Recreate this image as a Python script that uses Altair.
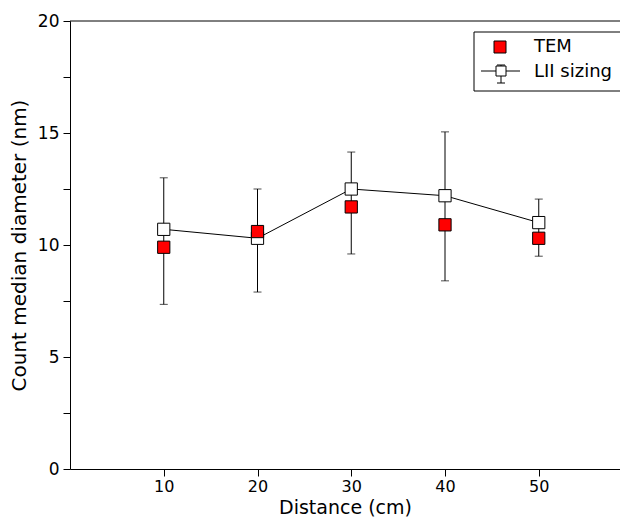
import altair as alt
import pandas as pd

# ---- data ----
distance = [10, 20, 30, 40, 50]
tem = [9.9, 10.6, 11.7, 10.9, 10.3]
lii = [10.7, 10.3, 12.5, 12.2, 11.0]
lii_low = [7.35, 7.9, 9.6, 8.4, 9.5]
lii_high = [13.0, 12.5, 14.15, 15.05, 12.05]
legend_labels = ["TEM", "LII sizing"]
x_ticks = [10, 20, 30, 40, 50]
y_ticks = [0, 2.5, 5, 7.5, 10, 12.5, 15, 17.5, 20]

df = pd.DataFrame({"d": distance, "tem": tem, "lii": lii, "lo": lii_low, "hi": lii_high})

W, H = 550, 448
PX_PER_UNIT = 9.375
xmax = W / PX_PER_UNIT
FONT = "DejaVu Sans"

xs = alt.Scale(domain=[0, xmax], nice=False, zero=False)
ys = alt.Scale(domain=[0, 20], nice=False)

xax = alt.Axis(values=x_ticks, title="Distance (cm)", grid=False, tickSize=7,
               labelPadding=2, titleY=44, titleBaseline="alphabetic",
               labelFlush=False, labelOverlap=False, labelFontSize=16, titleFontSize=19)
yax = alt.Axis(values=y_ticks, title="Count median diameter (nm)", grid=False, tickSize=7,
               labelPadding=4, titlePadding=8, labelFlush=False, labelOverlap=False,
               labelExpr="datum.value % 5 == 0 ? datum.label : ''")

base = alt.Chart(df)
X = alt.X("d:Q", scale=xs, axis=xax)

err = base.mark_rule(color="black", strokeWidth=1).encode(
    x=X, y=alt.Y("lo:Q", scale=ys, axis=yax), y2="hi:Q")
cap_lo = base.mark_tick(color="black", orient="horizontal", size=8, thickness=1).encode(
    x=X, y=alt.Y("lo:Q", scale=ys))
cap_hi = base.mark_tick(color="black", orient="horizontal", size=8, thickness=1).encode(
    x=X, y=alt.Y("hi:Q", scale=ys))
line = base.mark_line(color="black", strokeWidth=1).encode(
    x=X, y=alt.Y("lii:Q", scale=ys))
lii_pts = base.mark_point(shape="square", filled=True, fill="white", stroke="black",
                          strokeWidth=1, size=150, opacity=1).encode(
    x=X, y=alt.Y("lii:Q", scale=ys))
tem_pts = base.mark_point(shape="square", filled=True, fill="#ff0000", stroke="black",
                          strokeWidth=1, size=150, opacity=1).encode(
    x=X, y=alt.Y("tem:Q", scale=ys))

one = alt.Chart(pd.DataFrame({"a": [0]}))
top_spine = one.mark_rule(color="black", strokeWidth=1).encode(
    x=alt.value(0), x2=alt.value(W), y=alt.value(0))

# ---- legend (manual, matplotlib style) ----
leg_box = one.mark_rect(fill="white", stroke="black", strokeWidth=1).encode(
    x=alt.value(404), x2=alt.value(553), y=alt.value(11), y2=alt.value(70))
leg_tem = one.mark_point(shape="square", filled=True, fill="#ff0000", stroke="black",
                         strokeWidth=1, size=144, opacity=1).encode(
    x=alt.value(430), y=alt.value(26))
leg_line = one.mark_rule(color="black", strokeWidth=1).encode(
    x=alt.value(411), x2=alt.value(450), y=alt.value(50))
leg_err = one.mark_rule(color="black", strokeWidth=1).encode(
    x=alt.value(431), y=alt.value(44), y2=alt.value(62))
leg_cap1 = one.mark_rule(color="black", strokeWidth=1).encode(
    x=alt.value(427), x2=alt.value(435), y=alt.value(44))
leg_cap2 = one.mark_rule(color="black", strokeWidth=1).encode(
    x=alt.value(427), x2=alt.value(435), y=alt.value(62))
leg_sq = one.mark_point(shape="square", filled=True, fill="white", stroke="black",
                        strokeWidth=1, size=100, opacity=1).encode(
    x=alt.value(431), y=alt.value(50))
leg_t1 = one.mark_text(align="left", baseline="middle", fontSize=18, font=FONT,
                       color="black").encode(
    x=alt.value(464), y=alt.value(26), text=alt.value(legend_labels[0]))
leg_t2 = one.mark_text(align="left", baseline="middle", fontSize=18, font=FONT,
                       color="black").encode(
    x=alt.value(464), y=alt.value(51), text=alt.value(legend_labels[1]))

chart = alt.layer(
    err, cap_lo, cap_hi, line, lii_pts, tem_pts, top_spine,
    leg_box, leg_line, leg_err, leg_cap1, leg_cap2, leg_sq, leg_tem, leg_t1, leg_t2
).properties(
    width=W, height=H,
    padding={"left": 62, "top": 13, "right": 0, "bottom": 49},
    autosize=alt.AutoSizeParams(type="none"),
).configure_view(
    stroke=None
).configure_axis(
    labelFont=FONT, titleFont=FONT, labelFontSize=17, titleFontSize=20,
    titleFontWeight="normal", labelColor="black", titleColor="black",
    tickColor="black", domainColor="black", domainWidth=1, tickWidth=1
)

chart.save("out.html", embed_options={"renderer": "svg", "actions": False})
